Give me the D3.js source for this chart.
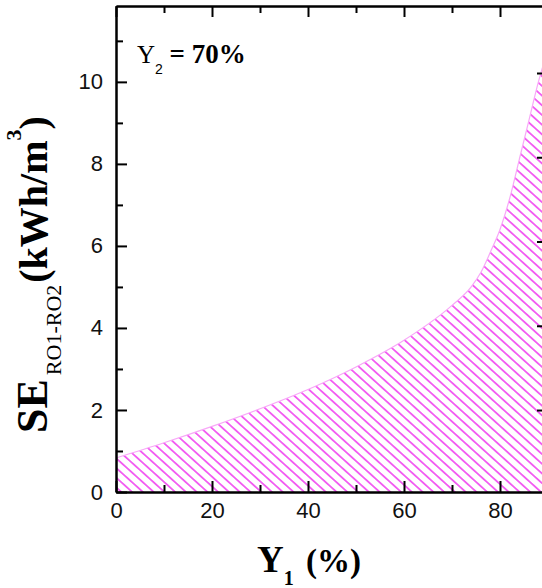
<!DOCTYPE html>
<html>
<head>
<meta charset="utf-8">
<script src="https://cdn.jsdelivr.net/npm/d3@7"></script>
<style>
  html, body { margin: 0; padding: 0; background: #fff; }
  svg { display: block; }
</style>
</head>
<body>
<div id="chart"></div>
<script>
// Y1 (%) and specific energy SE RO1-RO2 (kWh/m3), Y2 = 70%
const y1Pct = [0, 10, 20, 30, 40, 50, 60, 70, 74, 76, 78, 80, 82, 84, 86, 88, 90];
const seVals = [0.83, 1.2, 1.6, 2.03, 2.5, 3.05, 3.7, 4.55, 5.0, 5.35, 5.85, 6.4, 7.15, 8.1, 9.05, 10.0, 10.8];

const xMajor = [0, 20, 40, 60, 80];
const xMinor = [10, 30, 50, 70];
const yMajor = [0, 2, 4, 6, 8, 10];
const yMinor = [1, 3, 5, 7, 9, 11];

const width = 542, height = 588;
const hatch = '#f03cf0';

const svg = d3.select('#chart')
    .append('svg')
    .attr('width', width)
    .attr('height', height);

const x = d3.scaleLinear().domain([0, 90]).range([116, 548]);
const y = d3.scaleLinear().domain([0, 11.85]).range([492, 6]);
// right-hand axis ticks sit a little off the left ones in the picture
const yRight = d3.scaleLinear().domain([0, 10]).range([494.3, 73]);

// hatch pattern
const defs = svg.append('defs');
const pat = defs.append('pattern')
    .attr('id', 'hatch')
    .attr('patternUnits', 'userSpaceOnUse')
    .attr('width', 10)
    .attr('height', 7.2)
    .attr('patternTransform', 'rotate(42)');
pat.append('line')
    .attr('x1', 0).attr('x2', 10)
    .attr('y1', 3.6).attr('y2', 3.6)
    .attr('stroke', hatch)
    .attr('stroke-width', 1.5);

const pts = y1Pct.map((v, i) => ({ x: v, se: seVals[i] }));

const area = d3.area()
    .x((d) => x(d.x))
    .y0(y(0))
    .y1((d) => y(d.se))
    .curve(d3.curveMonotoneX);

svg.append('path')
    .datum(pts)
    .attr('d', area)
    .attr('fill', 'url(#hatch)');

svg.append('path')
    .datum(pts)
    .attr('d', area.lineY1())
    .attr('fill', 'none')
    .attr('stroke', '#f8a8f8')
    .attr('stroke-width', 1.2);

// axes
const styleAxis = (g) => {
    g.select('.domain').attr('stroke', '#000').attr('stroke-width', 2);
    g.selectAll('.tick line').attr('stroke', '#000').attr('stroke-width', 2);
    g.selectAll('.tick text')
        .attr('fill', '#111')
        .style('font-family', '"Liberation Sans", Arial, sans-serif')
        .style('font-size', '22px');
};

svg.append('g')
    .attr('transform', `translate(0,${y(0)})`)
    .call(d3.axisBottom(x).tickValues(xMajor).tickSizeInner(-11).tickSizeOuter(0).tickPadding(10))
    .call(styleAxis);
svg.append('g')
    .attr('transform', `translate(0,${y(0)})`)
    .call(d3.axisBottom(x).tickValues(xMinor).tickSizeInner(-7).tickSizeOuter(0).tickFormat(''))
    .call(styleAxis);

svg.append('g')
    .attr('transform', `translate(0,${y.range()[1]})`)
    .call(d3.axisTop(x).tickValues(xMajor).tickSizeInner(-11).tickSizeOuter(0).tickFormat(''))
    .call(styleAxis);
svg.append('g')
    .attr('transform', `translate(0,${y.range()[1]})`)
    .call(d3.axisTop(x).tickValues(xMinor).tickSizeInner(-7).tickSizeOuter(0).tickFormat(''))
    .call(styleAxis);

svg.append('g')
    .attr('transform', `translate(${x(0)},0)`)
    .call(d3.axisLeft(y).tickValues(yMajor).tickSizeInner(-11).tickSizeOuter(0).tickPadding(13))
    .call(styleAxis);
svg.append('g')
    .attr('transform', `translate(${x(0)},0)`)
    .call(d3.axisLeft(y).tickValues(yMinor).tickSizeInner(-7).tickSizeOuter(0).tickFormat(''))
    .call(styleAxis);

svg.append('g')
    .attr('transform', `translate(${x(90)},0)`)
    .call(d3.axisRight(yRight).tickValues([2, 4, 6, 8, 10]).tickSizeInner(-11).tickSizeOuter(0).tickFormat(''))
    .call(styleAxis);

// annotation
const note = svg.append('text')
    .attr('x', 137)
    .attr('y', 63)
    .style('font-family', '"Liberation Serif", "Times New Roman", serif')
    .attr('fill', '#000');
note.append('tspan').text('Y').style('font-size', '25px');
note.append('tspan').text('2')
    .attr('dy', 11)
    .style('font-family', '"Liberation Sans", Arial, sans-serif')
    .style('font-size', '14px');
note.append('tspan').text(' = 70%')
    .attr('dy', -11)
    .style('font-size', '27px')
    .style('font-weight', 'bold');

// x label
const xl = svg.append('text')
    .attr('x', 257)
    .attr('y', 572)
    .style('font-family', '"Liberation Serif", "Times New Roman", serif')
    .style('font-weight', 'bold')
    .attr('fill', '#000');
xl.append('tspan').text('Y').style('font-size', '37px');
xl.append('tspan').text('1').attr('dy', 13).style('font-size', '20px');
xl.append('tspan').text(' (%)').attr('dx', 4).attr('dy', -13).style('font-size', '33px');

// y label
const yl = svg.append('text')
    .attr('transform', 'translate(47,433) rotate(-90)')
    .style('font-family', '"Liberation Serif", "Times New Roman", serif')
    .attr('fill', '#000');
yl.append('tspan').text('SE').style('font-size', '44px').style('font-weight', 'bold');
yl.append('tspan').text('RO1-RO2').attr('dx', 4).attr('dy', 14).style('font-size', '22px');
yl.append('tspan').text('(kWh/m').attr('dx', 2).attr('dy', -14).style('font-size', '40px').style('font-weight', 'bold');
yl.append('tspan').text('3').attr('dy', -26).style('font-size', '22px').style('font-weight', 'bold');
yl.append('tspan').text(')').attr('dy', 26).style('font-size', '40px').style('font-weight', 'bold');
</script>
</body>
</html>
